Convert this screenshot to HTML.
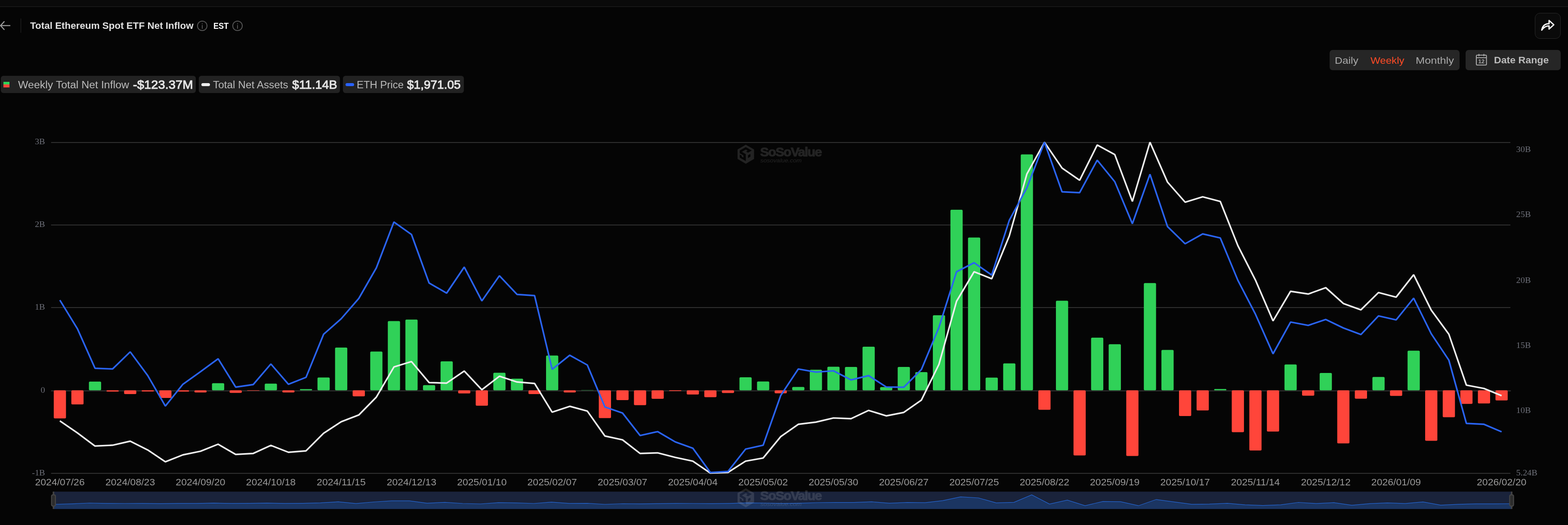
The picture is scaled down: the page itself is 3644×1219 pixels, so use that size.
<!DOCTYPE html>
<html lang="en"><head><meta charset="utf-8"><title>Total Ethereum Spot ETF Net Inflow</title>
<style>
html,body{margin:0;padding:0;background:#050505;}
body{width:3644px;height:1219px;position:relative;overflow:hidden;font-family:"Liberation Sans",sans-serif;color:#ddd;}
#topstrip{position:absolute;left:0;top:0;width:3644px;height:14.6px;background:#0a0a0a;border-bottom:1.6px solid #252525;}
#chart{position:absolute;left:0;top:0;}
.ys{font-family:"Liberation Serif",serif;font-size:18.7px;fill:#6e7079;}
.xs{font-family:"Liberation Sans",sans-serif;font-size:22.6px;fill:#999;}
.abs{position:absolute;white-space:nowrap;}
.t{position:absolute;white-space:nowrap;line-height:1;transform-origin:0 0;display:block;}
#divider{left:47.8px;top:43px;width:1.2px;height:33px;background:#2a2a2a;}
.pill{position:absolute;top:176px;height:40px;background:#222;border-radius:6px;}
.ic{position:absolute;}
#seg{left:3090.2px;top:116px;width:301.6px;height:47px;background:#262626;border-radius:7px;}
#dr{left:3406.3px;top:116px;width:220.4px;height:47px;background:#262626;border-radius:7px;}
#share{left:3567.3px;top:30px;width:57.5px;height:58px;border:1px solid #2a2a2a;border-radius:12px;background:#0a0a0a;}
</style></head><body>
<div id="topstrip"></div>
<main id="plot">
<svg id="chart" width="3644" height="1219" viewBox="0 0 3644 1219">
<rect x="118.7" y="329.9" width="3391.5" height="2" fill="#333"/>
<rect x="118.7" y="521.4" width="3391.5" height="2" fill="#333"/>
<rect x="118.7" y="713.1" width="3391.5" height="2" fill="#333"/>
<rect x="118.7" y="1098.1" width="3391.5" height="2" fill="#333"/>
<g opacity="0.118" transform="translate(0,0)" fill="#fff"><g transform="translate(1705,330) scale(0.064935)"><path fill-rule="evenodd" d="M435 92L730 262V600L435 772L140 600V262Z M435 178L648 300L515 378L445 340L500 305L435 265L295 348L435 430V678L218 553V445L290 482V522L350 552V472L218 397V300Z M512 468L600 425V520L512 568Z"/></g><text transform="translate(1766.6,362.8) scale(1.05,1)" font-family="Liberation Sans, sans-serif" font-weight="bold" font-size="29" letter-spacing="-1.6" stroke="#fff" stroke-width="1.1" stroke-linejoin="round">SoSoValue</text><text transform="translate(1767,377) scale(1.06,1)" font-family="Liberation Sans, sans-serif" font-style="italic" font-size="13.6">sosovalue.com</text></g>
<rect x="118.7" y="906.4" width="3392.5" height="2.2" fill="#333"/>
<rect x="124.93" y="906.2" width="28.4" height="65.4" rx="2.5" fill="#ff453a"/>
<rect x="165.79" y="906.2" width="28.4" height="32.7" rx="2.5" fill="#ff453a"/>
<rect x="206.65" y="886.1" width="28.4" height="20.1" rx="2.5" fill="#30d158"/>
<rect x="247.51" y="906.2" width="28.4" height="3.0" rx="1.5" fill="#ff453a"/>
<rect x="288.37" y="906.2" width="28.4" height="8.7" rx="2.5" fill="#ff453a"/>
<rect x="329.23" y="906.2" width="28.4" height="2.7" rx="1.3" fill="#ff453a"/>
<rect x="370.09" y="906.2" width="28.4" height="17.7" rx="2.5" fill="#ff453a"/>
<rect x="410.95" y="906.2" width="28.4" height="3.0" rx="1.5" fill="#ff453a"/>
<rect x="451.81" y="906.2" width="28.4" height="5.0" rx="2.5" fill="#ff453a"/>
<rect x="492.67" y="889.8" width="28.4" height="16.4" rx="2.5" fill="#30d158"/>
<rect x="533.53" y="906.2" width="28.4" height="6.0" rx="2.5" fill="#ff453a"/>
<rect x="574.39" y="906.2" width="28.4" height="1.0" rx="0.5" fill="#ff453a"/>
<rect x="615.25" y="890.8" width="28.4" height="15.4" rx="2.5" fill="#30d158"/>
<rect x="656.11" y="906.2" width="28.4" height="5.0" rx="2.5" fill="#ff453a"/>
<rect x="696.97" y="903.5" width="28.4" height="2.7" rx="1.4" fill="#30d158"/>
<rect x="737.83" y="876.5" width="28.4" height="29.7" rx="2.5" fill="#30d158"/>
<rect x="778.69" y="807.0" width="28.4" height="99.2" rx="2.5" fill="#30d158"/>
<rect x="819.55" y="906.2" width="28.4" height="14.0" rx="2.5" fill="#ff453a"/>
<rect x="860.41" y="816.3" width="28.4" height="89.9" rx="2.5" fill="#30d158"/>
<rect x="901.27" y="745.5" width="28.4" height="160.7" rx="2.5" fill="#30d158"/>
<rect x="942.13" y="741.9" width="28.4" height="164.3" rx="2.5" fill="#30d158"/>
<rect x="982.99" y="894.3" width="28.4" height="11.9" rx="2.5" fill="#30d158"/>
<rect x="1023.85" y="839.1" width="28.4" height="67.1" rx="2.5" fill="#30d158"/>
<rect x="1064.71" y="906.2" width="28.4" height="7.4" rx="2.5" fill="#ff453a"/>
<rect x="1105.57" y="906.2" width="28.4" height="35.8" rx="2.5" fill="#ff453a"/>
<rect x="1146.43" y="865.5" width="28.4" height="40.7" rx="2.5" fill="#30d158"/>
<rect x="1187.29" y="879.2" width="28.4" height="27.0" rx="2.5" fill="#30d158"/>
<rect x="1228.15" y="906.2" width="28.4" height="8.8" rx="2.5" fill="#ff453a"/>
<rect x="1269.01" y="825.4" width="28.4" height="80.8" rx="2.5" fill="#30d158"/>
<rect x="1309.87" y="906.2" width="28.4" height="5.1" rx="2.5" fill="#ff453a"/>
<rect x="1350.73" y="905.7" width="28.4" height="0.5" rx="0.2" fill="#30d158"/>
<rect x="1391.59" y="906.2" width="28.4" height="64.6" rx="2.5" fill="#ff453a"/>
<rect x="1432.45" y="906.2" width="28.4" height="22.8" rx="2.5" fill="#ff453a"/>
<rect x="1473.31" y="906.2" width="28.4" height="34.5" rx="2.5" fill="#ff453a"/>
<rect x="1514.17" y="906.2" width="28.4" height="19.8" rx="2.5" fill="#ff453a"/>
<rect x="1555.03" y="906.2" width="28.4" height="1.8" rx="0.9" fill="#ff453a"/>
<rect x="1595.89" y="906.2" width="28.4" height="9.8" rx="2.5" fill="#ff453a"/>
<rect x="1636.75" y="906.2" width="28.4" height="16.1" rx="2.5" fill="#ff453a"/>
<rect x="1677.61" y="906.2" width="28.4" height="6.4" rx="2.5" fill="#ff453a"/>
<rect x="1718.47" y="875.9" width="28.4" height="30.3" rx="2.5" fill="#30d158"/>
<rect x="1759.33" y="885.8" width="28.4" height="20.4" rx="2.5" fill="#30d158"/>
<rect x="1800.19" y="906.2" width="28.4" height="7.0" rx="2.5" fill="#ff453a"/>
<rect x="1841.05" y="898.5" width="28.4" height="7.7" rx="2.5" fill="#30d158"/>
<rect x="1881.91" y="858.4" width="28.4" height="47.8" rx="2.5" fill="#30d158"/>
<rect x="1922.77" y="851.4" width="28.4" height="54.8" rx="2.5" fill="#30d158"/>
<rect x="1963.63" y="852.0" width="28.4" height="54.2" rx="2.5" fill="#30d158"/>
<rect x="2004.49" y="804.9" width="28.4" height="101.3" rx="2.5" fill="#30d158"/>
<rect x="2045.35" y="898.8" width="28.4" height="7.4" rx="2.5" fill="#30d158"/>
<rect x="2086.21" y="852.0" width="28.4" height="54.2" rx="2.5" fill="#30d158"/>
<rect x="2127.07" y="864.0" width="28.4" height="42.2" rx="2.5" fill="#30d158"/>
<rect x="2167.93" y="732.0" width="28.4" height="174.2" rx="2.5" fill="#30d158"/>
<rect x="2208.79" y="487.1" width="28.4" height="419.1" rx="2.5" fill="#30d158"/>
<rect x="2249.65" y="551.5" width="28.4" height="354.7" rx="2.5" fill="#30d158"/>
<rect x="2290.51" y="876.7" width="28.4" height="29.5" rx="2.5" fill="#30d158"/>
<rect x="2331.37" y="843.7" width="28.4" height="62.5" rx="2.5" fill="#30d158"/>
<rect x="2372.23" y="358.4" width="28.4" height="547.8" rx="2.5" fill="#30d158"/>
<rect x="2413.09" y="906.2" width="28.4" height="45.4" rx="2.5" fill="#ff453a"/>
<rect x="2453.95" y="698.2" width="28.4" height="208.0" rx="2.5" fill="#30d158"/>
<rect x="2494.81" y="906.2" width="28.4" height="151.3" rx="2.5" fill="#ff453a"/>
<rect x="2535.67" y="783.9" width="28.4" height="122.3" rx="2.5" fill="#30d158"/>
<rect x="2576.53" y="799.2" width="28.4" height="107.0" rx="2.5" fill="#30d158"/>
<rect x="2617.39" y="906.2" width="28.4" height="152.6" rx="2.5" fill="#ff453a"/>
<rect x="2658.25" y="657.2" width="28.4" height="249.0" rx="2.5" fill="#30d158"/>
<rect x="2699.11" y="812.6" width="28.4" height="93.6" rx="2.5" fill="#30d158"/>
<rect x="2739.97" y="906.2" width="28.4" height="59.7" rx="2.5" fill="#ff453a"/>
<rect x="2780.83" y="906.2" width="28.4" height="46.7" rx="2.5" fill="#ff453a"/>
<rect x="2821.69" y="903.2" width="28.4" height="3.0" rx="1.5" fill="#30d158"/>
<rect x="2862.55" y="906.2" width="28.4" height="97.4" rx="2.5" fill="#ff453a"/>
<rect x="2903.41" y="906.2" width="28.4" height="139.7" rx="2.5" fill="#ff453a"/>
<rect x="2944.27" y="906.2" width="28.4" height="95.9" rx="2.5" fill="#ff453a"/>
<rect x="2985.13" y="846.2" width="28.4" height="60.0" rx="2.5" fill="#30d158"/>
<rect x="3025.99" y="906.2" width="28.4" height="12.5" rx="2.5" fill="#ff453a"/>
<rect x="3066.85" y="866.1" width="28.4" height="40.1" rx="2.5" fill="#30d158"/>
<rect x="3107.71" y="906.2" width="28.4" height="123.4" rx="2.5" fill="#ff453a"/>
<rect x="3148.57" y="906.2" width="28.4" height="19.5" rx="2.5" fill="#ff453a"/>
<rect x="3189.43" y="875.3" width="28.4" height="30.9" rx="2.5" fill="#30d158"/>
<rect x="3230.29" y="906.2" width="28.4" height="13.1" rx="2.5" fill="#ff453a"/>
<rect x="3271.15" y="814.3" width="28.4" height="91.9" rx="2.5" fill="#30d158"/>
<rect x="3312.01" y="906.2" width="28.4" height="117.4" rx="2.5" fill="#ff453a"/>
<rect x="3352.87" y="906.2" width="28.4" height="62.6" rx="2.5" fill="#ff453a"/>
<rect x="3393.73" y="906.2" width="28.4" height="31.5" rx="2.5" fill="#ff453a"/>
<rect x="3434.59" y="906.2" width="28.4" height="30.5" rx="2.5" fill="#ff453a"/>
<rect x="3475.45" y="906.2" width="28.4" height="23.5" rx="2.5" fill="#ff453a"/>
<polyline points="139.1,977.3 180.0,1005.3 220.8,1035.7 261.7,1033.7 302.6,1024.4 343.4,1044.8 384.3,1072.2 425.1,1056.1 466.0,1047.8 506.9,1031.4 547.7,1055.1 588.6,1052.8 629.5,1034.1 670.3,1050.1 711.2,1046.8 752.0,1006.0 792.9,979.3 833.8,963.6 874.6,922.1 915.5,852.1 956.3,839.6 997.2,888.3 1038.0,889.6 1078.9,861.5 1119.8,905.0 1160.6,873.6 1201.5,886.9 1242.3,890.3 1283.2,957.1 1324.1,943.4 1364.9,954.5 1405.8,1012.4 1446.7,1021.3 1487.5,1052.9 1528.4,1051.5 1569.2,1062.0 1610.1,1070.8 1650.9,1098.5 1691.8,1096.9 1732.7,1070.8 1773.5,1063.5 1814.4,1013.8 1855.2,985.2 1896.1,980.1 1937.0,970.5 1977.8,972.1 2018.7,952.9 2059.6,965.6 2100.4,957.6 2141.3,928.9 2182.1,846.0 2223.0,699.5 2263.8,631.0 2304.7,647.2 2345.6,547.8 2386.4,404.2 2427.3,330.3 2468.2,390.2 2509.0,418.6 2549.9,336.7 2590.7,358.8 2631.6,467.7 2672.5,330.3 2713.3,422.9 2754.2,469.4 2795.0,457.0 2835.9,467.7 2876.8,570.4 2917.6,650.3 2958.5,745.1 2999.3,676.3 3040.2,682.7 3081.1,668.0 3121.9,704.7 3162.8,719.4 3203.6,679.3 3244.5,690.0 3285.3,637.9 3326.2,720.1 3367.1,776.0 3407.9,894.3 3448.8,902.0 3489.7,918.7" fill="none" stroke="#eeeeee" stroke-width="3.7" stroke-linejoin="bevel"/>
<polyline points="139.1,696.9 180.0,763.5 220.8,855.1 261.7,856.7 302.6,817.0 343.4,872.1 384.3,942.9 425.1,892.2 466.0,863.1 506.9,833.0 547.7,898.8 588.6,892.8 629.5,845.1 670.3,892.2 711.2,876.1 752.0,776.2 792.9,740.1 833.8,693.0 874.6,622.0 915.5,515.4 956.3,544.5 997.2,657.2 1038.0,680.6 1078.9,620.1 1119.8,698.7 1160.6,640.2 1201.5,683.6 1242.3,686.3 1283.2,857.5 1324.1,824.8 1364.9,847.5 1405.8,945.0 1446.7,959.0 1487.5,1011.2 1528.4,1002.2 1569.2,1026.0 1610.1,1040.7 1650.9,1097.2 1691.8,1094.6 1732.7,1042.8 1773.5,1033.8 1814.4,918.2 1855.2,856.7 1896.1,864.0 1937.0,861.0 1977.8,882.1 2018.7,872.1 2059.6,898.5 2100.4,899.1 2141.3,858.0 2182.1,760.1 2223.0,631.0 2263.8,610.0 2304.7,638.7 2345.6,511.5 2386.4,436.3 2427.3,330.3 2468.2,445.3 2509.0,447.3 2549.9,371.8 2590.7,421.9 2631.6,519.5 2672.5,404.6 2713.3,526.2 2754.2,566.0 2795.0,543.1 2835.9,552.5 2876.8,650.9 2917.6,729.4 2958.5,821.5 2999.3,747.8 3040.2,755.5 3081.1,741.8 3121.9,761.5 3162.8,776.8 3203.6,733.5 3244.5,742.8 3285.3,692.4 3326.2,775.0 3367.1,836.2 3407.9,983.2 3448.8,985.2 3489.7,1002.6" fill="none" stroke="#2a64f2" stroke-width="3.7" stroke-linejoin="bevel"/>
<text transform="translate(104.7,335.1) scale(1.09,1)" text-anchor="end" class="ys">3B</text>
<text transform="translate(104.7,527.2) scale(1.09,1)" text-anchor="end" class="ys">2B</text>
<text transform="translate(104.7,719.1) scale(1.09,1)" text-anchor="end" class="ys">1B</text>
<text transform="translate(104.7,911.6) scale(1.09,1)" text-anchor="end" class="ys">0</text>
<text transform="translate(104.7,1104.0) scale(1.09,1)" text-anchor="end" class="ys">-1B</text>
<text transform="translate(3523.6,352.9) scale(1.09,1)" class="ys">30B</text>
<text transform="translate(3523.6,503.6) scale(1.09,1)" class="ys">25B</text>
<text transform="translate(3523.6,656.7) scale(1.09,1)" class="ys">20B</text>
<text transform="translate(3523.6,808.4) scale(1.09,1)" class="ys">15B</text>
<text transform="translate(3523.6,959.3) scale(1.09,1)" class="ys">10B</text>
<text transform="translate(3523.6,1104.0) scale(1.09,1)" class="ys">5.24B</text>
<text transform="translate(139.1,1127.3) scale(1.02,1)" text-anchor="middle" class="xs">2024/07/26</text>
<text transform="translate(302.6,1127.3) scale(1.02,1)" text-anchor="middle" class="xs">2024/08/23</text>
<text transform="translate(466.0,1127.3) scale(1.02,1)" text-anchor="middle" class="xs">2024/09/20</text>
<text transform="translate(629.5,1127.3) scale(1.02,1)" text-anchor="middle" class="xs">2024/10/18</text>
<text transform="translate(792.9,1127.3) scale(1.02,1)" text-anchor="middle" class="xs">2024/11/15</text>
<text transform="translate(956.3,1127.3) scale(1.02,1)" text-anchor="middle" class="xs">2024/12/13</text>
<text transform="translate(1119.8,1127.3) scale(1.02,1)" text-anchor="middle" class="xs">2025/01/10</text>
<text transform="translate(1283.2,1127.3) scale(1.02,1)" text-anchor="middle" class="xs">2025/02/07</text>
<text transform="translate(1446.7,1127.3) scale(1.02,1)" text-anchor="middle" class="xs">2025/03/07</text>
<text transform="translate(1610.1,1127.3) scale(1.02,1)" text-anchor="middle" class="xs">2025/04/04</text>
<text transform="translate(1773.5,1127.3) scale(1.02,1)" text-anchor="middle" class="xs">2025/05/02</text>
<text transform="translate(1937.0,1127.3) scale(1.02,1)" text-anchor="middle" class="xs">2025/05/30</text>
<text transform="translate(2100.4,1127.3) scale(1.02,1)" text-anchor="middle" class="xs">2025/06/27</text>
<text transform="translate(2263.8,1127.3) scale(1.02,1)" text-anchor="middle" class="xs">2025/07/25</text>
<text transform="translate(2427.3,1127.3) scale(1.02,1)" text-anchor="middle" class="xs">2025/08/22</text>
<text transform="translate(2590.7,1127.3) scale(1.02,1)" text-anchor="middle" class="xs">2025/09/19</text>
<text transform="translate(2754.2,1127.3) scale(1.02,1)" text-anchor="middle" class="xs">2025/10/17</text>
<text transform="translate(2917.6,1127.3) scale(1.02,1)" text-anchor="middle" class="xs">2025/11/14</text>
<text transform="translate(3081.1,1127.3) scale(1.02,1)" text-anchor="middle" class="xs">2025/12/12</text>
<text transform="translate(3244.5,1127.3) scale(1.02,1)" text-anchor="middle" class="xs">2026/01/09</text>
<text transform="translate(3489.7,1127.3) scale(1.02,1)" text-anchor="middle" class="xs">2026/02/20</text>
<rect x="124.3" y="1141.5" width="3388.7" height="40.2" fill="#1a233b"/>
<path d="M124.3,1181.7 L124.8,1171.0 L166.1,1169.9 L207.5,1168.0 L248.8,1168.8 L290.1,1169.0 L331.4,1168.8 L372.8,1169.3 L414.1,1168.8 L455.4,1168.9 L496.7,1168.1 L538.1,1168.9 L579.4,1168.7 L620.7,1168.1 L662.0,1168.9 L703.4,1168.6 L744.7,1167.6 L786.0,1165.1 L827.3,1169.2 L868.7,1165.5 L910.0,1162.9 L951.3,1162.8 L992.6,1168.3 L1034.0,1166.3 L1075.3,1169.0 L1116.6,1170.0 L1157.9,1167.2 L1199.3,1167.7 L1240.6,1169.0 L1281.9,1165.8 L1323.2,1168.9 L1364.6,1168.7 L1405.9,1171.0 L1447.2,1169.5 L1488.5,1169.9 L1529.9,1169.4 L1571.2,1168.8 L1612.5,1169.0 L1653.8,1169.3 L1695.2,1168.9 L1736.5,1167.6 L1777.8,1168.0 L1819.1,1168.9 L1860.5,1168.4 L1901.8,1167.0 L1943.1,1166.7 L1984.5,1166.7 L2025.8,1165.1 L2067.1,1168.4 L2108.4,1166.7 L2149.8,1167.2 L2191.1,1162.4 L2232.4,1153.7 L2273.7,1156.0 L2315.1,1167.6 L2356.4,1166.4 L2397.7,1149.0 L2439.0,1170.3 L2480.4,1161.2 L2521.7,1174.1 L2563.0,1164.3 L2604.3,1164.9 L2645.7,1174.2 L2687.0,1159.8 L2728.3,1165.3 L2769.6,1170.8 L2811.0,1170.4 L2852.3,1168.6 L2893.6,1172.2 L2934.9,1173.7 L2976.3,1172.1 L3017.6,1166.5 L3058.9,1169.1 L3100.2,1167.2 L3141.6,1173.1 L3182.9,1169.4 L3224.2,1167.6 L3265.5,1169.2 L3306.9,1165.4 L3348.2,1172.9 L3389.5,1170.9 L3430.8,1169.8 L3472.2,1169.8 L3513.5,1169.5 L3513.0,1181.7 Z" fill="#1b3562"/>
<polyline points="124.8,1171.0 166.1,1169.9 207.5,1168.0 248.8,1168.8 290.1,1169.0 331.4,1168.8 372.8,1169.3 414.1,1168.8 455.4,1168.9 496.7,1168.1 538.1,1168.9 579.4,1168.7 620.7,1168.1 662.0,1168.9 703.4,1168.6 744.7,1167.6 786.0,1165.1 827.3,1169.2 868.7,1165.5 910.0,1162.9 951.3,1162.8 992.6,1168.3 1034.0,1166.3 1075.3,1169.0 1116.6,1170.0 1157.9,1167.2 1199.3,1167.7 1240.6,1169.0 1281.9,1165.8 1323.2,1168.9 1364.6,1168.7 1405.9,1171.0 1447.2,1169.5 1488.5,1169.9 1529.9,1169.4 1571.2,1168.8 1612.5,1169.0 1653.8,1169.3 1695.2,1168.9 1736.5,1167.6 1777.8,1168.0 1819.1,1168.9 1860.5,1168.4 1901.8,1167.0 1943.1,1166.7 1984.5,1166.7 2025.8,1165.1 2067.1,1168.4 2108.4,1166.7 2149.8,1167.2 2191.1,1162.4 2232.4,1153.7 2273.7,1156.0 2315.1,1167.6 2356.4,1166.4 2397.7,1149.0 2439.0,1170.3 2480.4,1161.2 2521.7,1174.1 2563.0,1164.3 2604.3,1164.9 2645.7,1174.2 2687.0,1159.8 2728.3,1165.3 2769.6,1170.8 2811.0,1170.4 2852.3,1168.6 2893.6,1172.2 2934.9,1173.7 2976.3,1172.1 3017.6,1166.5 3058.9,1169.1 3100.2,1167.2 3141.6,1173.1 3182.9,1169.4 3224.2,1167.6 3265.5,1169.2 3306.9,1165.4 3348.2,1172.9 3389.5,1170.9 3430.8,1169.8 3472.2,1169.8 3513.5,1169.5" fill="none" stroke="#2468d8" stroke-width="1.2"/>
<g opacity="0.118" transform="translate(0,797.8)" fill="#fff"><g transform="translate(1705,330) scale(0.064935)"><path fill-rule="evenodd" d="M435 92L730 262V600L435 772L140 600V262Z M435 178L648 300L515 378L445 340L500 305L435 265L295 348L435 430V678L218 553V445L290 482V522L350 552V472L218 397V300Z M512 468L600 425V520L512 568Z"/></g><text transform="translate(1766.6,362.8) scale(1.05,1)" font-family="Liberation Sans, sans-serif" font-weight="bold" font-size="29" letter-spacing="-1.6" stroke="#fff" stroke-width="1.1" stroke-linejoin="round">SoSoValue</text><text transform="translate(1767,377) scale(1.06,1)" font-family="Liberation Sans, sans-serif" font-style="italic" font-size="13.6">sosovalue.com</text></g>
<rect x="122.5" y="1141.5" width="3.6" height="40.2" fill="#444"/>
<rect x="119.8" y="1149" width="9" height="26" rx="3" fill="#2c2c2c" stroke="#444" stroke-width="2.4"/>
<rect x="3511.2" y="1141.5" width="3.6" height="40.2" fill="#444"/>
<rect x="3508.5" y="1149" width="9" height="26" rx="3" fill="#2c2c2c" stroke="#444" stroke-width="2.4"/>
</svg>
</main>
<header id="head">
<svg class="abs" style="left:0;top:47px" width="26" height="26" viewBox="0 0 26 26"><path d="M24 12.4H1.5M10.3 2.6L1.2 12.4L10.3 22.2" fill="none" stroke="#a0a0a0" stroke-width="2.3"/></svg>
<div class="abs" id="divider"></div>
<span class="t" style="left:69.9px;top:49.25px;font-size:22.5px;font-weight:bold;color:#e0e0e0;transform:scaleX(0.9968);">Total Ethereum Spot ETF Net Inflow</span>
<svg class="abs" style="left:456.9px;top:46.5px" width="26" height="26" viewBox="0 0 26 26"><circle cx="13" cy="13" r="11.1" fill="none" stroke="#555" stroke-width="2"/><rect x="12.05" y="11.2" width="1.9" height="8.6" fill="#555"/><rect x="12.05" y="7.2" width="1.9" height="2" fill="#555"/></svg>
<span class="t" style="left:495.97px;top:49.78px;font-size:20.7px;font-weight:bold;color:#fff;transform:scaleX(0.8758);">EST</span>
<svg class="abs" style="left:538.5px;top:46.5px" width="26" height="26" viewBox="0 0 26 26"><circle cx="13" cy="13" r="11.1" fill="none" stroke="#555" stroke-width="2"/><rect x="12.05" y="11.2" width="1.9" height="8.6" fill="#555"/><rect x="12.05" y="7.2" width="1.9" height="2" fill="#555"/></svg>
</header>
<section id="legend">
<div class="pill" style="left:2.1px;width:452.8px"></div>
<div class="ic" style="left:7.9px;top:189.9px;width:14.3px;height:6.2px;background:#30d158"></div>
<div class="ic" style="left:7.9px;top:196.1px;width:14.3px;height:7px;background:#ff453a"></div>
<span class="t" style="left:42.4px;top:185.53px;font-size:23.0px;color:#bbb;transform:scaleX(1.0833);">Weekly Total Net Inflow</span>
<span class="t" style="left:309.29px;top:182.46px;font-size:28.4px;color:#e4e4e4;transform:scaleX(1.028);-webkit-text-stroke:1.1px #e4e4e4;">-$123.37M</span>
<div class="pill" style="left:462px;width:328px"></div>
<div class="ic" style="left:467.8px;top:193px;width:20.2px;height:7.4px;border-radius:3.7px;background:#eee"></div>
<span class="t" style="left:494.82px;top:185.53px;font-size:23.0px;color:#bbb;transform:scaleX(1.06);">Total Net Assets</span>
<span class="t" style="left:678.9px;top:182.46px;font-size:28.4px;color:#e4e4e4;transform:scaleX(1.0087);-webkit-text-stroke:1.1px #e4e4e4;">$11.14B</span>
<div class="pill" style="left:797.1px;width:280.8px"></div>
<div class="ic" style="left:803px;top:193px;width:20.2px;height:7.4px;border-radius:3.7px;background:#2962ff"></div>
<span class="t" style="left:829.13px;top:185.53px;font-size:23.0px;color:#bbb;transform:scaleX(1.0405);">ETH Price</span>
<span class="t" style="left:945.8px;top:182.46px;font-size:28.4px;color:#e4e4e4;transform:scaleX(0.9865);-webkit-text-stroke:1.1px #e4e4e4;">$1,971.05</span>
</section>
<nav id="controls">
<div class="abs" id="seg"></div>
<span class="t" style="left:3102.28px;top:128.68px;font-size:22.7px;color:#aaa;transform:scaleX(1.0846);">Daily</span>
<span class="t" style="left:3185.0px;top:128.68px;font-size:22.7px;color:#ff4b26;transform:scaleX(1.0621);">Weekly</span>
<span class="t" style="left:3289.81px;top:128.68px;font-size:22.7px;color:#aaa;transform:scaleX(1.1195);">Monthly</span>
<div class="abs" id="dr"><svg style="position:absolute;left:23px;top:8px" width="28" height="30" viewBox="0 0 28 30"><rect x="2" y="4" width="23.5" height="23" rx="2" fill="none" stroke="#aaa" stroke-width="2.1"/><path d="M2 10H25.5M8 1.2V6.6M19.5 1.2V6.6" stroke="#aaa" stroke-width="2.1" fill="none"/><text x="13.8" y="23.3" text-anchor="middle" font-family="Liberation Sans, sans-serif" font-size="13" font-weight="bold" fill="#aaa">12</text></svg></div>
<span class="t" style="left:3471.85px;top:129.11px;font-size:22.2px;font-weight:bold;color:#bbb;transform:scaleX(1.0425);">Date Range</span>
<div class="abs" id="share"><svg style="position:absolute;left:12px;top:12px" width="34" height="32" viewBox="0 0 34 32"><path d="M3 27C5 16 11 12 20 12V4.5L31 14.5L20 24.5V17C13 17 8 19.5 3 27Z" fill="none" stroke="#fff" stroke-width="3" stroke-linejoin="round"/></svg></div>
</nav>
<script>(function(){var w=window.innerWidth,d=window.devicePixelRatio||1;if(w&&d>1&&Math.abs(w*d-3644)<4){document.body.style.zoom=1/d;}})();</script>
</body></html>
